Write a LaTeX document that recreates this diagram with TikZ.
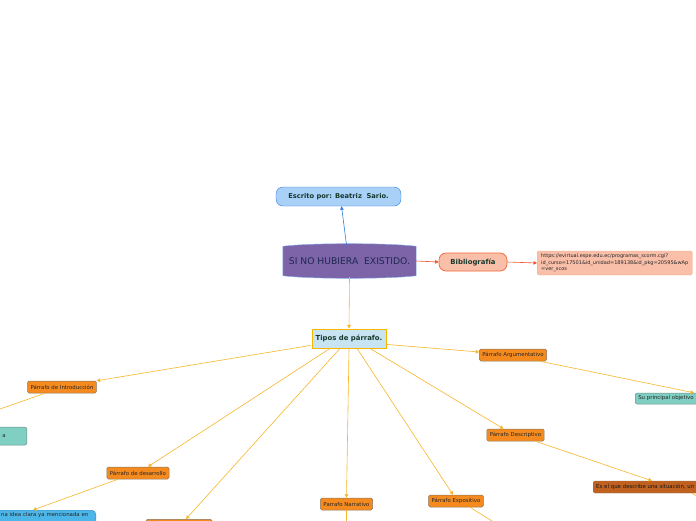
\documentclass[tikz,border=0pt]{standalone}
\usepackage{fontspec}
\setmainfont{DejaVu Sans}
\usetikzlibrary{arrows.meta,backgrounds,calc}
\definecolor{ofill}{HTML}{F58B1F}
\definecolor{obrd}{HTML}{8A7560}
\definecolor{lnk}{HTML}{F7B52A}
\definecolor{tfill}{HTML}{7FCFC3}
\definecolor{tbrd}{HTML}{6E8C88}
\definecolor{bfill}{HTML}{4DB6E9}
\definecolor{bbrd}{HTML}{3C8CC0}
\definecolor{brfill}{HTML}{C0611F}
\definecolor{sfill}{HTML}{F9BFA9}
\definecolor{sbrd}{HTML}{F2653A}
\definecolor{sbrd2}{HTML}{F6A98C}
\definecolor{efill}{HTML}{A9D0F7}
\definecolor{ebrd}{HTML}{2F7BE0}
\definecolor{tipfill}{HTML}{C8E3F1}
\definecolor{tipbrd}{HTML}{F5B800}
\definecolor{purp}{HTML}{7D64A8}
\definecolor{navy}{HTML}{1E2850}
\definecolor{dgreen}{HTML}{163A2E}
\definecolor{redl}{HTML}{EC5428}
\begin{document}
\begin{tikzpicture}[x=1pt,y=-1pt,
  tiny/.style={font=\fontsize{5.4}{6.2}\selectfont},
  obox/.style={draw=obrd, fill=ofill, rounded corners=1.5pt, tiny, inner xsep=3pt, inner ysep=0pt, minimum height=12pt, text=black!85, line width=0.5pt},
  tbox/.style={draw=tbrd, fill=tfill, rounded corners=2pt, tiny, inner xsep=3pt, inner ysep=0pt, text=black!85, line width=0.5pt},
  link/.style={draw=lnk, line width=0.6pt, -{Triangle[length=3.5pt,width=3.5pt]}},
  plain/.style={draw=lnk, line width=0.6pt}
]
\useasboundingbox (0,0) rectangle (696,520);
\clip (0,0) rectangle (696,520);

% central
\node[minimum width=133pt, minimum height=32pt, inner sep=0pt, text=navy,
      font=\fontsize{9.2}{10}\selectfont] (main) at (349.5,261) {SI NO HUBIERA\ \ EXISTIDO.};
\begin{scope}[on background layer]
\filldraw[fill=purp, draw=ebrd!60, line width=0.4pt]
  ($(main.north west)+(0,1.5)$) .. controls ($(main.north)+(-40,-2)$) and ($(main.north)+(40,-2)$) .. ($(main.north east)+(0,1.5)$)
  -- ($(main.south east)+(0,-1.5)$) .. controls ($(main.south)+(40,2)$) and ($(main.south)+(-40,2)$) .. ($(main.south west)+(0,-1.5)$) -- cycle;
\end{scope}

\node[draw=ebrd, fill=efill, rounded corners=7pt, minimum width=125pt, minimum height=19pt, inner sep=0pt,
      font=\fontsize{6.7}{7}\selectfont\bfseries, text=dgreen] (escrito) at (338.5,196.5) {Escrito por: Beatriz\ \ Sario.};

\node[draw=sbrd, fill=sfill, rounded corners=7pt, minimum width=68pt, minimum height=18pt, inner sep=0pt,
      font=\fontsize{6.9}{7}\selectfont\bfseries, text=dgreen, line width=0.7pt] (biblio) at (473,262) {Bibliografía};

\node[draw=sbrd2, fill=sfill, rounded corners=2pt, anchor=west, minimum height=24pt, inner xsep=4pt, inner ysep=1.5pt,
      align=left, font=\fontsize{5.0}{6.5}\selectfont, text=black!85] (url) at (537,263)
  {https://evirtual.espe.edu.ec/programas\_scorm.cgi?\\id\_curso=17501\&id\_unidad=189138\&id\_pkg=20595\&wAp\\=ver\_scos};

\node[draw=tipbrd, fill=tipfill, minimum width=74pt, minimum height=19pt, inner sep=0pt, line width=0.8pt,
      font=\fontsize{6.9}{7}\selectfont\bfseries, text=dgreen] (tipos) at (349,338.5) {Tipos de párrafo.};

% orange nodes
\node[obox] (intro) at (62,387) {Párrafo de Introducción};
\node[obox] (arg) at (513,355) {Párrafo Argumentativo};
\node[obox] (desc) at (515.5,435) {Párrafo Descriptivo};
\node[obox] (desa) at (138,473) {Párrafo de desarrollo};
\node[obox] (narr) at (346.5,504) {Parrafo Narrativo};
\node[obox] (expo) at (456,501) {Párrafo Expositivo};
\node[obox, anchor=north, minimum width=66pt] (bot) at (179,519) {};

% leaf nodes (partly outside)
\node[tbox, anchor=west, minimum height=11pt, text width=80pt, align=left] (suobj) at (635,398.5) {Su principal objetivo};
\node[tbox, anchor=east, minimum height=18pt, text width=80pt, align=right] (lefttl) at (27,436) {a\hspace*{18pt}};
\node[draw=bbrd, fill=bfill, rounded corners=4pt, anchor=north east, text depth=12pt,
      inner xsep=3pt, inner ysep=2.5pt, text width=150pt, align=right, tiny, text=black!85] (blue) at (96,510)
  {na idea clara ya mencionada en\hspace*{4.5pt}};
\node[draw=obrd, fill=brfill, rounded corners=1.5pt, anchor=west, minimum height=12pt, inner xsep=3pt, inner ysep=0pt,
      tiny, text=black!90, text width=120pt, align=left] (brown) at (593,487) {Es el que describe una situación, un};

\coordinate (introend) at (-20,416);
\coordinate (narrend) at (346.5,530);
\coordinate (expoend) at (500,526);
\coordinate (brownend) at (712,505);

% connectors
\draw[draw=ebrd, line width=0.6pt, -{Triangle[length=3.5pt,width=3.5pt]}] ([xshift=-3pt]main.north) -- ([xshift=3pt]escrito.south);
\draw[draw=redl, line width=0.6pt, -{Triangle[length=3.5pt,width=3.5pt]}] (main.east) -- (biblio.west);
\draw[draw=redl, line width=0.6pt, -{Triangle[length=3.5pt,width=3.5pt]}] (biblio.east) -- (url.west);
\draw[link] (main.south) -- (tipos.north);

\draw[link] ([xshift=-1pt,yshift=3pt]tipos.south west) -- (intro.north east);
\draw[link] ([xshift=-19pt]tipos.south) -- ([xshift=10pt]desa.north);
\draw[link] ([xshift=-9pt]tipos.south) -- ([xshift=7pt]bot.north);
\draw[link] (tipos.south) -- (narr.north);
\draw[link] ([xshift=8pt]tipos.south) -- ([xshift=-3pt]expo.north);
\draw[link] ([xshift=21pt]tipos.south) -- ([xshift=-12pt]desc.north);
\draw[link] ([yshift=4pt]tipos.south east) -- ([yshift=3pt]arg.west);

\draw[plain] ([xshift=-17pt]intro.south) -- (introend);
\draw[link] ([xshift=-20pt]desa.south) -- ([xshift=-63pt]blue.north east);
\draw[plain] (narr.south) -- (narrend);
\draw[plain] ([xshift=14pt]expo.south) -- (expoend);
\draw[link] ([xshift=20pt]desc.south) -- ([xshift=59pt]brown.north west);
\draw[plain] ([xshift=99pt]brown.south west) -- (brownend);
\draw[link] ([xshift=27pt]arg.south) -- ([xshift=59pt]suobj.north west);
\end{tikzpicture}
\end{document}
